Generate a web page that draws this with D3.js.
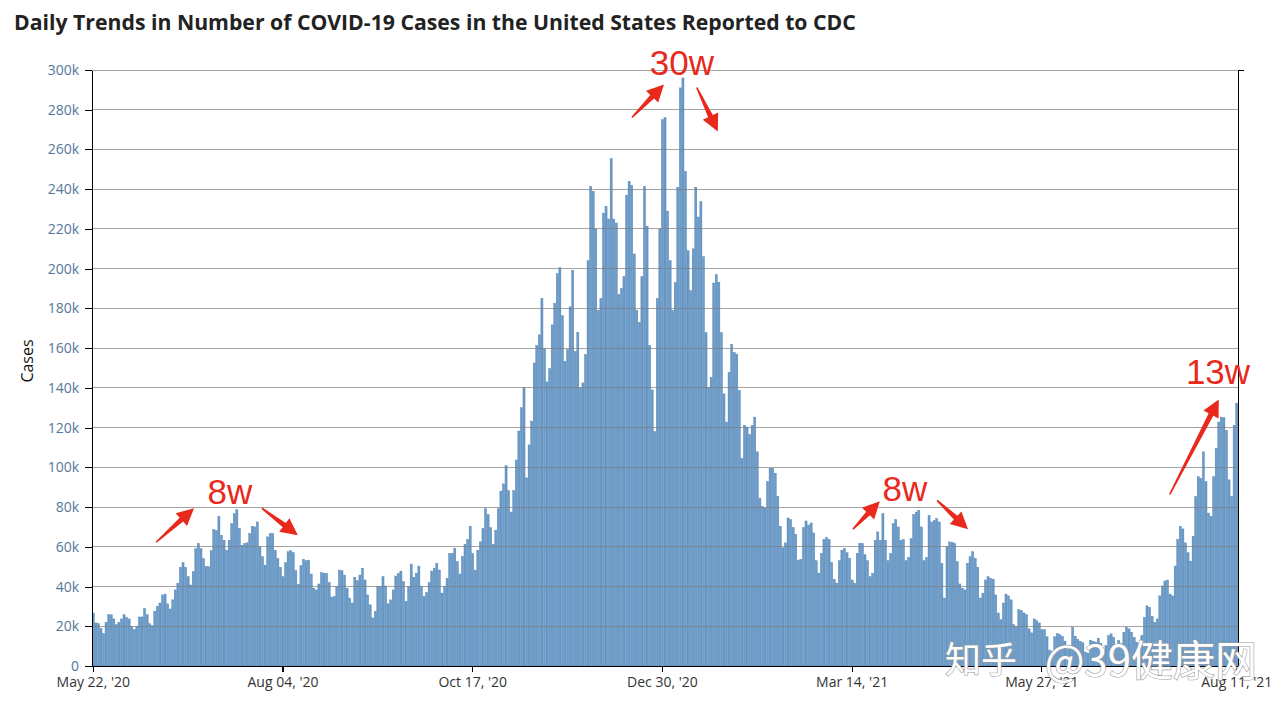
<!DOCTYPE html>
<html><head><meta charset="utf-8">
<script src="https://cdn.jsdelivr.net/npm/d3@7"></script>
<style>
html,body{margin:0;padding:0;background:#fff;}
svg{display:block;}
</style></head><body>
<svg id="chart" width="1287" height="713"></svg>
<script>
// ---------------- DATA ----------------
const startDate = "2020-05-22";
// Daily reported cases, in thousands
const casesK_2020a = [
26.7,21.7,21.3,19,16.3,22,25.8,25.8,23.7,20.8,
22,23.7,25.8,24.5,23.7,20,18.3,20,24.7,24.7,
29,25.8,21.3,20.3,27.5,30,31.7,35.8,36.2,31.3,
28.7,33.3,38.3,41.7,49.7,52,49.7,45,40.8,47.5,
59,61.7,59,54,50,50,58,68.7,68.3,75.3,
65.8,63.3,58.3,63.3,71.7,76.7,78.7,69.2,60.8,61.7,
62,66.7,70.3,70,72.5,60,55,50.8,65,66.7,
66.7,58.3,54.2,49.7,45,52,57.5,58,57,48,
41,50.5,53.7,53,53.3,46.3,39.2,38.3,41.3,47];
const casesK_2020b = [
46.7,46.7,42,34.7,35,40,48.3,48,45.8,39.2,
34.2,31.7,44.7,43,45.8,49.2,43.3,35.8,30.8,24.2,
27.5,40,40,45,40.3,31.3,33.3,38.3,45.3,46.7,
47.8,42.5,32.5,40,51.3,44.7,46.7,50.3,40,35,
37,42,47.8,49.2,51.7,48.3,36.7,40,44.2,56.7,
56.7,59.2,52.5,46.3,55.3,61.3,63.7,70.3,56.7,48.3,
58.3,62.5,69.2,79.2,76.3,69.7,61.3,68.3,79.2,88,
91.7,100.8,88.3,77.5,88.3,103.7,118.3,130,140.3,94.7,
111.3,123.3,152.5,161.3,166.7,185,159.7,143,149.7,171.7];
const casesK_2021a = [
182.5,197.5,200.5,176.3,153.3,159.2,180.8,199.2,158.3,168,
140,142.5,156.7,204,241.4,239,220,179,185,228,
231.4,225,255.4,225,223,187,190,196,237,244,
242,207.4,179,173,196,241.4,221.4,161.4,139,118,
185,220,275,276,229,204,179,193,241,291,
296,249,209,189,210,241,226,233.7,206,167.8,
140.3,145.3,192.8,197,193.2,167.8,137,122.8,147.8,162,
157.8,157,138.7,104.5,121.2,120.3,116.5,121.2,125.3,107.8,
84.5,80.3,79.5,92.8,99.5,99.5,97,85.3,70.3,59.5];
const casesK_2021b = [
62,74.5,73.7,69.7,66.3,53.3,53.7,69.7,73,71,
72,67,53,46.7,56.7,63.7,64.7,63.7,52.2,43.7,
41.7,53,58.3,59.2,57,54.2,43.3,41.7,56.7,61.7,
61.7,56,53,45,46.7,63.3,67.5,63.3,76.7,63.3,
53,56.7,71.7,73.7,70,63.3,63.7,53,54.7,64.2,
76.3,77.5,78.3,70,53,54.7,75.8,72.5,73.3,74.2,
72.5,51.7,34.2,60,62.5,62.3,61.7,52.5,41.3,39.2,
38.3,51.7,55,57.5,54.2,49.7,34.2,36.7,43.3,45,
44.2,43.7,35.8,26.7,23.3,31.7,36.2,35.3,33.3,20.8];
const casesK_2021c = [
20,28.3,28,26.7,25.8,18.7,16.7,23.7,22.8,21.7,
18.3,18.3,14.7,8,7.5,14.7,16.3,15.8,15,12.5,
8.3,9,19.5,15,13.5,12.5,11.7,7,6.5,13,
12.5,12,14,11.5,6.5,10.3,15.3,16.2,14.5,10.3,
12.8,11.2,17,19.5,18.7,17,14.5,12,9.5,15.3,
24.5,30.3,29.5,25,22,23.7,35.3,40.3,42.8,43.3,
36.2,35.3,50.3,63.7,70.3,69,62,57,52.8,65.3,
85.3,95.3,94.5,107.8,92.8,77,75.3,95.3,109.5,122.8,
125.3,125,118.7,93.7,85.3,121.2,132.3];

const yTicksK = [0,20,40,60,80,100,120,140,160,180,200,220,240,260,280,300];
const xTickLabels = ["May 22, '20","Aug 04, '20","Oct 17, '20","Dec 30, '20","Mar 14, '21","May 27, '21","Aug 11, '21"];

const titleText = "Daily Trends in Number of COVID-19 Cases in the United States Reported to CDC";
const yAxisTitle = "Cases";

// annotation labels: position as (day offset, value in thousands)
const noteLabels = ["8w","30w","8w","13w"];
const noteDays   = [53.8, 230.1, 317.1, 439.2];
const noteValues = [81.6, 297.6, 83.2, 142.1];
// arrows: tail and tip as (day offset, value in thousands)
const arrowTailDays = [25.0, 66.3, 210.6, 235.9, 296.8, 329.6, 420.4];
const arrowTailVals = [62.3, 79.4, 276.1, 291.2, 68.8, 83.4, 86.4];
const arrowTipDays  = [39.8, 80.3, 223.1, 244.1, 307.3, 341.7, 439.5];
const arrowTipVals  = [79.4, 65.8, 292.7, 269.1, 82.9, 68.8, 134.2];

// ---------------- CHART ----------------
const values = [].concat(casesK_2020a, casesK_2020b, casesK_2021a, casesK_2021b, casesK_2021c);
const d0 = d3.timeParse("%Y-%m-%d")(startDate);
const fmt = d3.timeFormat("%b %d, '%y");
const data = values.map((v, i) => ({ key: fmt(d3.timeDay.offset(d0, i)), v }));

const svg = d3.select("#chart");
const L = 92, R = 1238, T = 70, B = 666;

const x = d3.scaleBand().domain(data.map(d => d.key)).range([L, R]).paddingInner(0.18).paddingOuter(0.09);
const xd = d3.scaleLinear().domain([0, data.length]).range([L, R]);
const y = d3.scaleLinear().domain([0, 300]).range([B, T]);

// Title
const title = svg.append("text").attr("x", 14).attr("y", 29.5)
  .attr("font-family", "'Open Sans', sans-serif").attr("font-weight", 700)
  .attr("font-size", 20).attr("fill", "#222").text(titleText);
const tw = title.node().getComputedTextLength();
title.attr("font-size", 20 * 842 / tw);

// Bars
svg.append("g").selectAll("rect").data(data).join("rect")
  .attr("x", d => x(d.key)).attr("y", d => y(d.v))
  .attr("width", x.bandwidth()).attr("height", d => y(0) - y(d.v))
  .attr("fill", "#6b9bc8").attr("stroke", "#4f81b2").attr("stroke-width", 0.4);

// Grid lines (drawn over bars as in the reference)
svg.append("g").selectAll("line").data(yTicksK.filter(t => t > 0)).join("line")
  .attr("x1", L).attr("x2", R).attr("y1", d => y(d)).attr("y2", d => y(d))
  .attr("stroke", "#7d7d7d").attr("stroke-opacity", 0.7).attr("stroke-width", 1)
  .attr("shape-rendering", "crispEdges");

// Y axis
const gy = svg.append("g").attr("transform", `translate(${L},0)`)
  .call(d3.axisLeft(y).tickValues(yTicksK).tickFormat(d => d === 0 ? "0" : d + "k").tickSize(7).tickSizeOuter(0).tickPadding(6));
gy.selectAll("text").attr("font-family", "'Open Sans', sans-serif").attr("font-size", 14).attr("fill", "#56789a");
gy.selectAll("line,path").attr("stroke", "#000").attr("shape-rendering", "crispEdges");

// Right axis
const gr = svg.append("g").attr("transform", `translate(${R},0)`)
  .call(d3.axisRight(y).tickValues([300]).tickFormat("").tickSize(6).tickSizeOuter(0));
gr.selectAll("line,path").attr("stroke", "#000").attr("shape-rendering", "crispEdges");

// X axis
const gx = svg.append("g").attr("transform", `translate(0,${B})`)
  .call(d3.axisBottom(x).tickValues(xTickLabels).tickSize(6).tickSizeOuter(0).tickPadding(5));
gx.selectAll("text").attr("font-family", "'Open Sans', sans-serif").attr("font-size", 14).attr("fill", "#333");
gx.selectAll("line,path").attr("stroke", "#000").attr("stroke-width", 1.2).attr("shape-rendering", "crispEdges");

// Y axis title
svg.append("text").attr("transform", "translate(27,361) rotate(-90)")
  .attr("text-anchor", "middle").attr("dominant-baseline", "central")
  .attr("font-family", "'Open Sans', sans-serif").attr("font-size", 16).attr("fill", "#111").text(yAxisTitle);

// Red annotations
const red = "#e8291c";
function arrowPath(x1, y1, x2, y2) {
  const dx = x2 - x1, dy = y2 - y1, len = Math.hypot(dx, dy);
  const ux = dx / len, uy = dy / len, nx = -uy, ny = ux;
  const hl = 17, hw = 8.5, sw0 = 0.8, sw1 = 2.6;
  const kx = x2 - ux * hl, ky = y2 - uy * hl;
  const p = [
    [x1 + nx * sw0, y1 + ny * sw0], [kx + nx * sw1, ky + ny * sw1], [kx + nx * hw, ky + ny * hw],
    [x2, y2], [kx - nx * hw, ky - ny * hw], [kx - nx * sw1, ky - ny * sw1], [x1 - nx * sw0, y1 - ny * sw0]];
  return "M" + p.map(q => q.join(",")).join("L") + "Z";
}
svg.append("g").selectAll("path").data(d3.range(arrowTailDays.length)).join("path")
  .attr("d", i => arrowPath(xd(arrowTailDays[i]), y(arrowTailVals[i]), xd(arrowTipDays[i]), y(arrowTipVals[i])))
  .attr("fill", red);
svg.append("g").selectAll("text").data(d3.range(noteLabels.length)).join("text")
  .attr("x", i => xd(noteDays[i])).attr("y", i => y(noteValues[i]))
  .attr("text-anchor", "middle").attr("font-family", "'Liberation Sans', Arial, sans-serif")
  .attr("font-size", 35).attr("fill", red).text(i => noteLabels[i]);

// Watermark
const wm = svg.append("g").attr("font-family", "'Noto Sans CJK SC', sans-serif")
  .attr("fill", "#fff").attr("stroke", "#9a9a9a").attr("stroke-width", 1.2).attr("paint-order", "stroke");
wm.append("text").attr("x", 945).attr("y", 673).attr("font-size", 36).text("知乎");
wm.append("text").attr("x", 1257).attr("y", 676).attr("text-anchor", "end").attr("font-size", 42).text("@39健康网");
</script>
</body></html>
